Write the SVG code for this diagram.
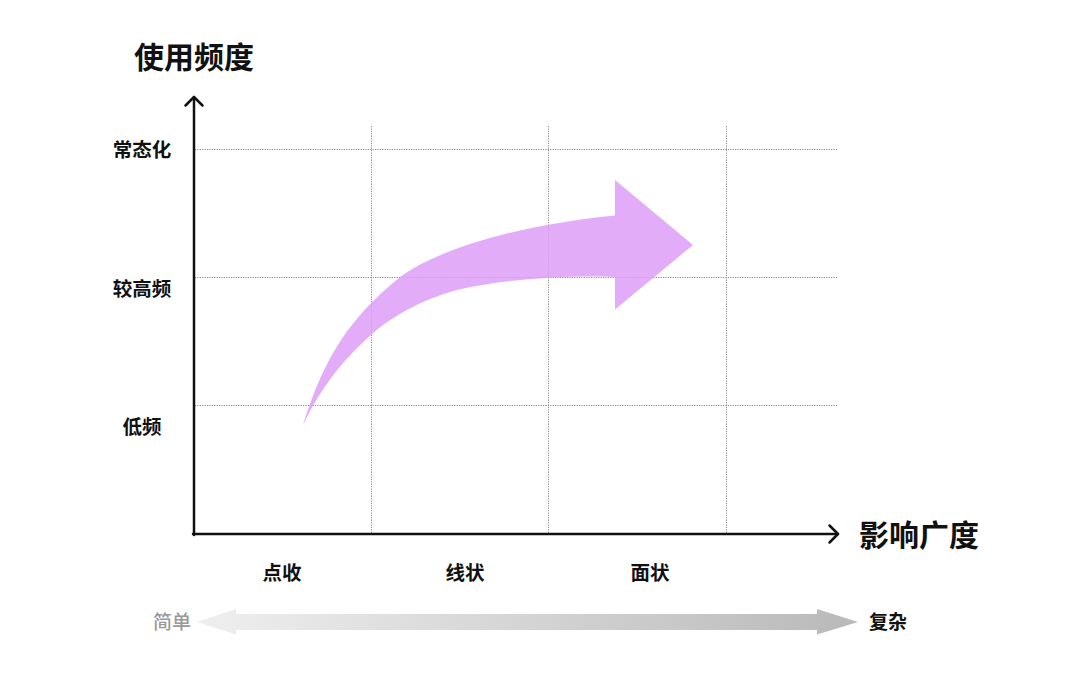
<svg xmlns="http://www.w3.org/2000/svg" width="1080" height="673" viewBox="0 0 1080 673">
<defs>
<style>
.t{font-family:"Noto Sans CJK SC","Noto Sans",sans-serif;fill:#111;}
.big{font-size:30px;font-weight:700;}
.lbl{font-size:19.5px;font-weight:600;}
.grid{stroke:#8a8a8a;stroke-width:1;stroke-dasharray:1.2 1.2;fill:none;}
.axis{stroke:#111;stroke-width:2.5;fill:none;stroke-linecap:round;stroke-linejoin:round;}
</style>
<linearGradient id="g" x1="197" y1="0" x2="858" y2="0" gradientUnits="userSpaceOnUse">
<stop offset="0" stop-color="#efefef"/>
<stop offset="1" stop-color="#b9b9b9"/>
</linearGradient>
</defs>
<rect width="1080" height="673" fill="#fff"/>
<g id="grid">
<line class="grid" x1="371.5" y1="126" x2="371.5" y2="534"/>
<line class="grid" x1="548.5" y1="126" x2="548.5" y2="534"/>
<line class="grid" x1="726.5" y1="126" x2="726.5" y2="534"/>
<line class="grid" x1="195" y1="149.5" x2="838" y2="149.5"/>
<line class="grid" x1="195" y1="277.5" x2="838" y2="277.5"/>
<line class="grid" x1="195" y1="405.5" x2="838" y2="405.5"/>
</g>
<g id="trend-arrow">
<path d="M303,425 C325,355 350,318 400,277 C440,248 520,225 615,215.5 L615,180 L693,245 L615,309.5 L615,277 C560,275 500,280 457,290 C420,300 390,318 372,334 C345,358 322,385 303,425 Z" fill="#de9ef7" fill-opacity="0.85"/>
</g>
<g id="connectors">
<path class="axis" d="M194,535 V97"/>
<path class="axis" d="M185.5,105.5 L194,97 L202.5,105.5"/>
<path class="axis" d="M193,534 H838"/>
<path class="axis" d="M829.5,525.5 L838,534 L829.5,542.5"/>
</g>
<g id="y-title"><text class="t big" x="134" y="68">使用频度</text></g>
<g id="x-title"><text class="t big" x="859" y="546">影响广度</text></g>
<g id="y-labels">
<text class="t lbl" x="142" y="157" text-anchor="middle">常态化</text>
<text class="t lbl" x="142" y="296" text-anchor="middle">较高频</text>
<text class="t lbl" x="142" y="434" text-anchor="middle">低频</text>
</g>
<g id="x-labels">
<text class="t lbl" x="282" y="580" text-anchor="middle">点收</text>
<text class="t lbl" x="465" y="580" text-anchor="middle">线状</text>
<text class="t lbl" x="650" y="580" text-anchor="middle">面状</text>
</g>
<g id="complexity">
<path d="M197,622 L236,609 L236,614 L817,614 L817,609 L858,622 L817,634.5 L817,630 L236,630 L236,634.5 Z" fill="url(#g)"/>
<text class="t" x="153" y="629" font-size="19" font-weight="500" style="fill:#999">简单</text>
<text class="t" x="869" y="629" font-size="19" font-weight="600">复杂</text>
</g>
</svg>
